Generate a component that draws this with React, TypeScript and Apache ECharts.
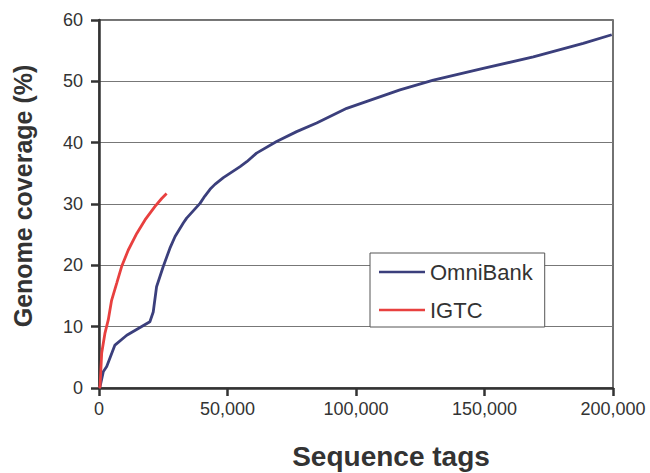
import React, { useEffect, useRef } from "react";
import * as echarts from "echarts";

const omniX = [0, 400, 1700, 3000, 6200, 10800, 15300, 19800, 21100, 22400, 25000, 27600, 29600, 32800, 34100, 39300, 41200, 43200, 45100, 48400, 54900, 57500, 61300, 69100, 76900, 84700, 96400, 117100, 130100, 149500, 169000, 188400, 199500];
const omniY = [0, 0.2, 2.7, 3.5, 7.0, 8.6, 9.7, 10.8, 12.4, 16.5, 19.8, 22.8, 24.7, 26.9, 27.7, 30.1, 31.3, 32.4, 33.2, 34.3, 36.1, 36.9, 38.3, 40.2, 41.8, 43.2, 45.6, 48.6, 50.2, 52.1, 54.0, 56.2, 57.6];

const igtcX = [0, 400, 1050, 2300, 3600, 4900, 6900, 8800, 11400, 14700, 17900, 21800, 24400, 26300];
const igtcY = [0, 0.2, 5.7, 8.9, 11.1, 14.3, 17.1, 19.8, 22.5, 25.2, 27.4, 29.6, 30.9, 31.7];

const xTicks = [0, 50000, 100000, 150000, 200000];
const yTicks = [0, 10, 20, 30, 40, 50, 60];

const FONT = "'Liberation Sans', Arial, Helvetica, sans-serif";

export default function App() {
  const ref = useRef<HTMLDivElement>(null);
  useEffect(() => {
    if (!ref.current) return;
    const chart = echarts.init(ref.current, null, { renderer: "svg" });
    chart.setOption({
      animation: false,
      backgroundColor: "#ffffff",
      grid: {
        left: 99,
        top: 20,
        right: 37,
        bottom: 85,
        show: true,
        borderColor: "#444",
        borderWidth: 1.5,
        backgroundColor: "transparent",
      },
      legend: {
        orient: "vertical",
        left: 370,
        top: 253,
        backgroundColor: "#fff",
        borderColor: "#555",
        borderWidth: 1,
        borderRadius: 0,
        padding: [8, 12, 6, 9],
        icon: "rect",
        itemWidth: 46,
        itemHeight: 2.5,
        itemGap: 16,
        textStyle: { fontFamily: FONT, fontSize: 22, color: "#333" },
        data: ["OmniBank", "IGTC"],
      },
      graphic: [
        {
          type: "text",
          x: 391,
          y: 456,
          style: {
            text: "Sequence tags",
            fontFamily: FONT,
            fontSize: 28,
            fontWeight: "bold",
            fill: "#333",
            align: "center",
            verticalAlign: "middle",
          },
        },
        {
          type: "text",
          x: 23,
          y: 196,
          rotation: Math.PI / 2,
          style: {
            text: "Genome coverage (%)",
            fontFamily: FONT,
            fontSize: 25,
            fontWeight: "bold",
            fill: "#333",
            align: "center",
            verticalAlign: "middle",
          },
        },
      ],
      xAxis: {
        type: "value",
        min: xTicks[0],
        max: xTicks[xTicks.length - 1],
        interval: 50000,
        axisLine: { show: true, onZero: false, lineStyle: { color: "#333", width: 2.5 } },
        axisTick: { show: true, inside: false, length: 8, lineStyle: { color: "#333", width: 2.5 } },
        axisLabel: {
          fontFamily: FONT,
          fontSize: 18,
          color: "#333",
          margin: 12,
          formatter: (v: number) => v.toLocaleString("en-US"),
        },
        splitLine: { show: false },
      },
      yAxis: {
        type: "value",
        min: yTicks[0],
        max: yTicks[yTicks.length - 1],
        interval: 10,
        axisLine: { show: true, lineStyle: { color: "#333", width: 2.5 } },
        axisTick: { show: true, inside: false, length: 8, lineStyle: { color: "#333", width: 2.5 } },
        axisLabel: { fontFamily: FONT, fontSize: 18, color: "#333", margin: 16 },
        splitLine: { show: true, lineStyle: { color: "#777", width: 1 } },
      },
      series: [
        {
          name: "OmniBank",
          type: "line",
          symbol: "none",
          data: omniX.map((x, i) => [x, omniY[i]]),
          lineStyle: { color: "#3b3f7c", width: 2.8 },
          itemStyle: { color: "#3b3f7c" },
        },
        {
          name: "IGTC",
          type: "line",
          symbol: "none",
          data: igtcX.map((x, i) => [x, igtcY[i]]),
          lineStyle: { color: "#e8403f", width: 2.8 },
          itemStyle: { color: "#e8403f" },
        },
      ],
    });
    return () => chart.dispose();
  }, []);
  return <div ref={ref} style={{ width: 650, height: 473, position: "absolute", left: 0, top: 0 }} />;
}
